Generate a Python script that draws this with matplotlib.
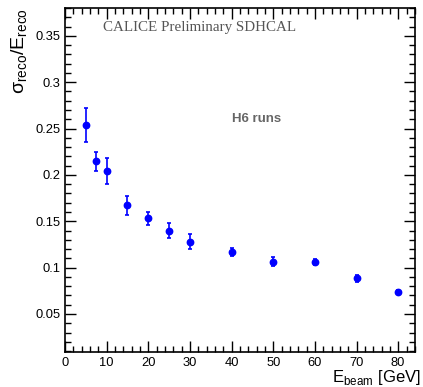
import matplotlib
matplotlib.use("Agg")
import matplotlib.pyplot as plt
from matplotlib.ticker import MultipleLocator
import numpy as np

# data
e_beam = np.array([5, 7.5, 10, 15, 20, 25, 30, 40, 50, 60, 70, 80])
resol = np.array([0.254, 0.2145, 0.2047, 0.167, 0.153, 0.140, 0.1278, 0.117, 0.1065, 0.106, 0.0885, 0.0734])
resol_err = np.array([0.018, 0.0099, 0.014, 0.010, 0.007, 0.008, 0.008, 0.004, 0.005, 0.003, 0.004, 0.002])

plt.rcParams['font.family'] = ['Liberation Sans', 'DejaVu Sans']
plt.rcParams['mathtext.fontset'] = 'custom'
plt.rcParams['mathtext.rm'] = 'Liberation Sans'

fig = plt.figure(figsize=(4.23, 3.87), dpi=100)
ax = fig.add_axes([0.1537, 0.0904, 0.827, 0.889])

ax.errorbar(e_beam, resol, yerr=resol_err, fmt='o', color='#0000ff', ms=4.6,
            elinewidth=1.2, capsize=1.5, capthick=1.2)

ax.set_xlim(0, 84)
ax.set_ylim(0.009, 0.38)
ax.xaxis.set_major_locator(MultipleLocator(10))
ax.xaxis.set_minor_locator(MultipleLocator(2))
ax.yaxis.set_major_locator(MultipleLocator(0.05))
ax.yaxis.set_minor_locator(MultipleLocator(0.01))
ax.tick_params(which='both', direction='in', top=True, right=True, labelsize=9.3, width=1)
ax.tick_params(which='major', length=8)
ax.tick_params(which='minor', length=4)
ax.set_yticks([0.05, 0.1, 0.15, 0.2, 0.25, 0.3, 0.35])
ax.set_yticklabels(['0.05', '0.1', '0.15', '0.2', '0.25', '0.3', '0.35'])
for s in ax.spines.values():
    s.set_linewidth(1.2)

ax.text(9.1, 0.355, 'CALICE Preliminary SDHCAL', family='Liberation Serif',
        fontsize=10.8, color='#555555')
ax.text(40, 0.260, 'H6 runs', fontsize=9.5, fontweight='bold', color='#666666', va='center')

fig.text(0.047, 0.979, r'σ$_{\mathrm{reco}}$/E$_{\mathrm{reco}}$', rotation=90,
         ha='center', va='top', fontsize=14)
fig.text(0.995, 0.0, r'E$_{\mathrm{beam}}$ [GeV]', ha='right', va='bottom', fontsize=12)

fig.savefig('out.png', dpi=100)
